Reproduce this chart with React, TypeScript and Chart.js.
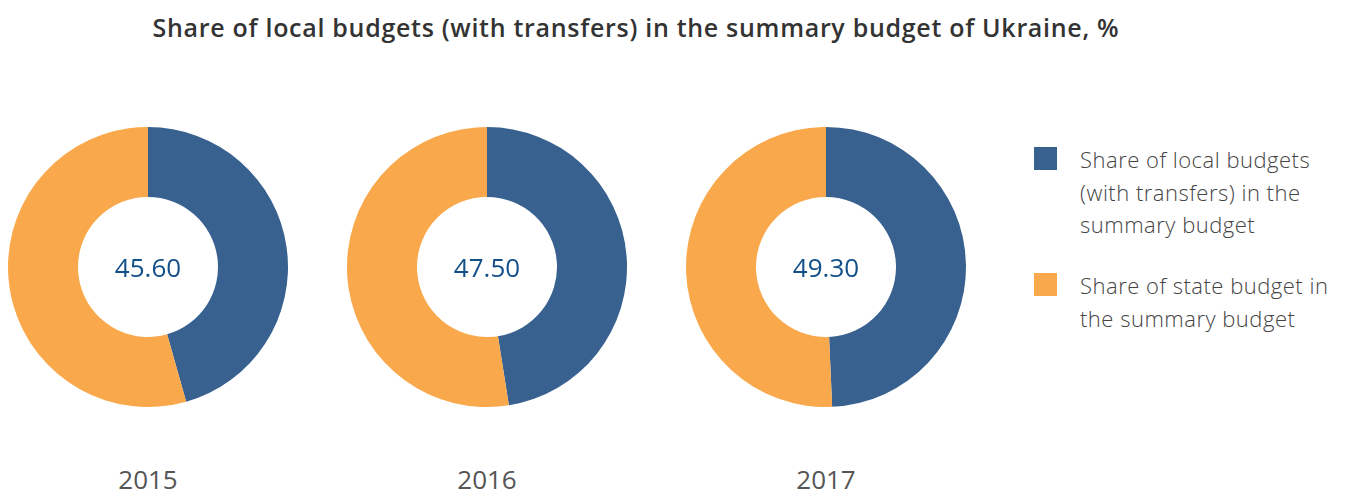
import React, { useEffect, useRef } from "react";
import { Chart, registerables } from "chart.js";

Chart.register(...registerables);

const years = ["2015", "2016", "2017"];
const localShare = [45.6, 47.5, 49.3];
const stateShare = [54.4, 52.5, 50.7];
const seriesLabels = [
  "Share of local budgets (with transfers) in the summary budget",
  "Share of state budget in the summary budget",
];
const legendLines = [
  ["Share of local budgets", "(with transfers) in the", "summary budget"],
  ["Share of state budget in", "the summary budget"],
];
const colors = ["#386190", "#F9A84B"];
const titleText = "Share of local budgets (with transfers) in the summary budget of Ukraine, %";

const centersX = [148, 487, 826];
const centerY = 267;
const radius = 140;

function Donut({ idx }: { idx: number }) {
  const ref = useRef<HTMLCanvasElement | null>(null);
  useEffect(() => {
    if (!ref.current) return;
    const chart = new Chart(ref.current, {
      type: "doughnut",
      data: {
        labels: seriesLabels,
        datasets: [
          {
            data: [localShare[idx], stateShare[idx]],
            backgroundColor: colors,
            borderWidth: 0,
          },
        ],
      },
      options: {
        responsive: false,
        maintainAspectRatio: false,
        animation: false,
        cutout: "50%",
        layout: { padding: 0 },
        plugins: { legend: { display: false }, tooltip: { enabled: false }, title: { display: false } },
      },
    });
    return () => chart.destroy();
  }, [idx]);
  const size = radius * 2;
  return (
    <>
      <canvas
        ref={ref}
        width={size}
        height={size}
        style={{ position: "absolute", left: centersX[idx] - radius, top: centerY - radius, width: size, height: size }}
      />
      <div
        style={{
          position: "absolute",
          left: centersX[idx] - 80,
          width: 160,
          top: centerY - 18,
          height: 36,
          lineHeight: "36px",
          textAlign: "center",
          fontFamily: "'Open Sans', sans-serif",
          fontSize: 26,
          color: "#134F88",
        }}
      >
        {localShare[idx].toFixed(2)}
      </div>
      <div
        style={{
          position: "absolute",
          left: centersX[idx] - 80,
          width: 160,
          top: 462,
          height: 34,
          lineHeight: "34px",
          textAlign: "center",
          fontFamily: "'Open Sans', sans-serif",
          fontSize: 26,
          color: "#555555",
        }}
      >
        {years[idx]}
      </div>
    </>
  );
}

export default function App() {
  return (
    <div style={{ position: "fixed", left: 0, top: 0, width: 1354, height: 491, background: "#fff", overflow: "hidden" }}>
      <div
        style={{
          position: "absolute",
          left: 0,
          width: 1272,
          top: 10,
          textAlign: "center",
          fontFamily: "'Open Sans', sans-serif",
          fontWeight: 600,
          fontSize: 25,
          letterSpacing: "0.7px",
          color: "#333333",
          whiteSpace: "nowrap",
        }}
      >
        {titleText}
      </div>
      {years.map((_, i) => (
        <Donut key={i} idx={i} />
      ))}
      {legendLines.map((lines, i) => (
        <div key={i} style={{ position: "absolute", left: 1034, top: i === 0 ? 143 : 269, width: 320 }}>
          <div style={{ position: "absolute", left: 0, top: 4, width: 23, height: 23, background: colors[i] }} />
          <div
            style={{
              position: "absolute",
              left: 46,
              top: 0,
              width: 280,
              fontFamily: "'Open Sans', sans-serif",
              fontWeight: 300,
              fontSize: 22,
              letterSpacing: "0.5px",
              lineHeight: "32.5px",
              color: "#444444",
              whiteSpace: "nowrap",
            }}
          >
            {lines.map((l, j) => (
              <div key={j}>{l}</div>
            ))}
          </div>
        </div>
      ))}
    </div>
  );
}
